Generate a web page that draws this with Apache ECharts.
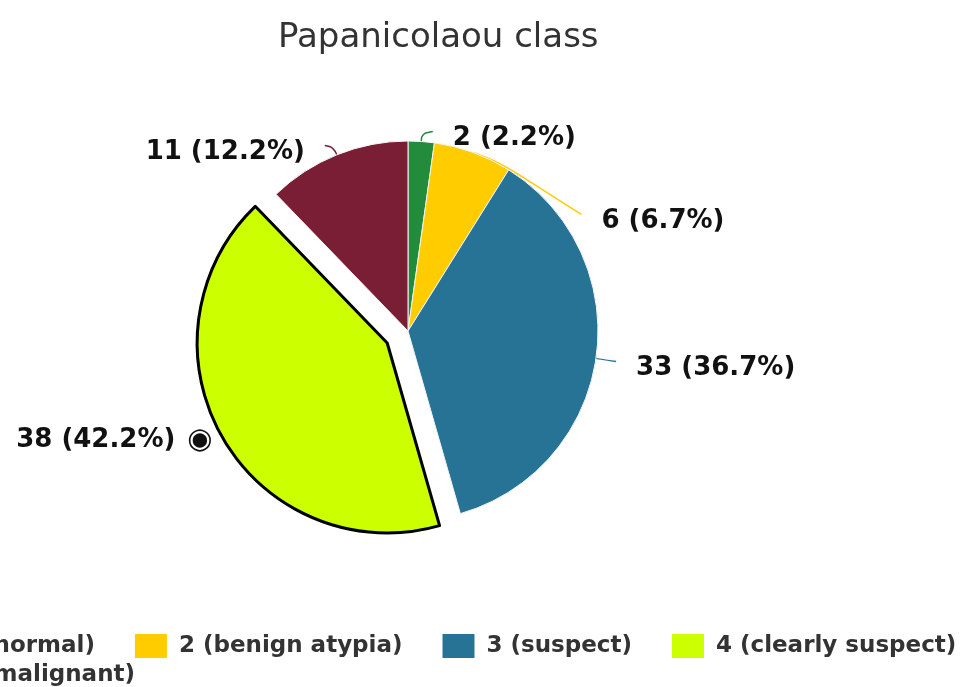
<!DOCTYPE html>
<html>
<head>
<meta charset="utf-8">
<script src="https://cdn.jsdelivr.net/npm/echarts@6/dist/echarts.min.js"></script>
<style>html,body{margin:0;padding:0;background:#fff}#c{width:963px;height:687px}</style>
</head>
<body>
<div id="c"></div>
<script>
const categories = ['1 (normal)', '2 (benign atypia)', '3 (suspect)', '4 (clearly suspect)', '5 (malignant)'];
const values = [2, 6, 33, 38, 11];
const colors = ['#228b3c', '#ffcc00', '#267396', '#ccff00', '#7a1e35'];
const selectedIndex = 3;
const titleText = 'Papanicolaou class';

const chart = echarts.init(document.getElementById('c'));
const data = categories.map((name, i) => {
  const d = { name: name, value: values[i], itemStyle: { color: colors[i] } };
  if (i === selectedIndex) {
    d.selected = true;
    d.itemStyle.borderColor = '#000';
    d.itemStyle.borderWidth = 3;
    d.labelLine = { show: false, length: 0, length2: 0 };
  }
  return d;
});

// label nudges (layout only)
const nudge = [[7, 5], [79, 60], [22, 10], [4, 2], [-5, 5]];
const lineGap = 20;

const legendText = { fontFamily: 'DejaVu Sans', fontSize: 23, fontWeight: 'bold', color: '#333', padding: [0, 0, 0, 7] };

chart.setOption({
  animation: false,
  title: {
    text: titleText,
    left: 273,
    top: 16,
    textStyle: { fontFamily: 'DejaVu Sans', fontSize: 34, fontWeight: 'normal', color: '#333' }
  },
  legend: [{
    data: categories.slice(0, 4),
    left: -85,
    top: 634,
    padding: 0,
    itemGap: 40,
    itemWidth: 32,
    itemHeight: 24,
    icon: 'rect',
    itemStyle: { borderWidth: 0 },
    selectedMode: false,
    textStyle: legendText
  }, {
    data: categories.slice(4),
    left: -85,
    top: 663,
    padding: 0,
    itemWidth: 32,
    itemHeight: 24,
    icon: 'rect',
    itemStyle: { borderWidth: 0 },
    selectedMode: false,
    textStyle: legendText
  }],
  series: [{
    type: 'pie',
    center: [408, 331],
    radius: 190,
    startAngle: 90,
    clockwise: true,
    selectedMode: 'single',
    selectedOffset: 24,
    avoidLabelOverlap: true,
    data: data,
    itemStyle: { borderColor: '#f4f4f4', borderWidth: 1 },
    label: {
      show: true,
      position: 'outside',
      distanceToLabelLine: 14,
      fontFamily: 'DejaVu Sans',
      fontSize: 26,
      fontWeight: 'bold',
      color: '#111',
      formatter: p => p.value + ' (' + p.percent.toFixed(1) + '%)' + (p.dataIndex === selectedIndex ? '{s|◉}' : ''),
      rich: { s: { fontSize: 29, color: '#111', fontFamily: 'DejaVu Sans', padding: [0, 0, 0, 12] } }
    },
    labelLine: { show: true, length: 8, length2: 10, smooth: 0.4, lineStyle: { width: 1.5 } },
    labelLayout: p => {
      const i = p.dataIndex, n = nudge[i];
      if (i === selectedIndex) return { dx: n[0], dy: n[1] };
      const r = p.labelRect;
      const left = r.x + n[0];
      const cy = r.y + r.height / 2 + n[1];
      const out = { x: left, y: cy, align: 'left', verticalAlign: 'middle' };
      const pts = p.labelLinePoints;
      if (pts && pts.length >= 2) {
        const rightSide = pts[0][0] <= left;
        const endX = rightSide ? left - lineGap : left + r.width + lineGap;
        out.labelLinePoints = [pts[0].slice(), pts[1].slice(), [endX, cy - 7]];
      }
      return out;
    },
    emphasis: { disabled: true }
  }]
});
</script>
</body>
</html>
